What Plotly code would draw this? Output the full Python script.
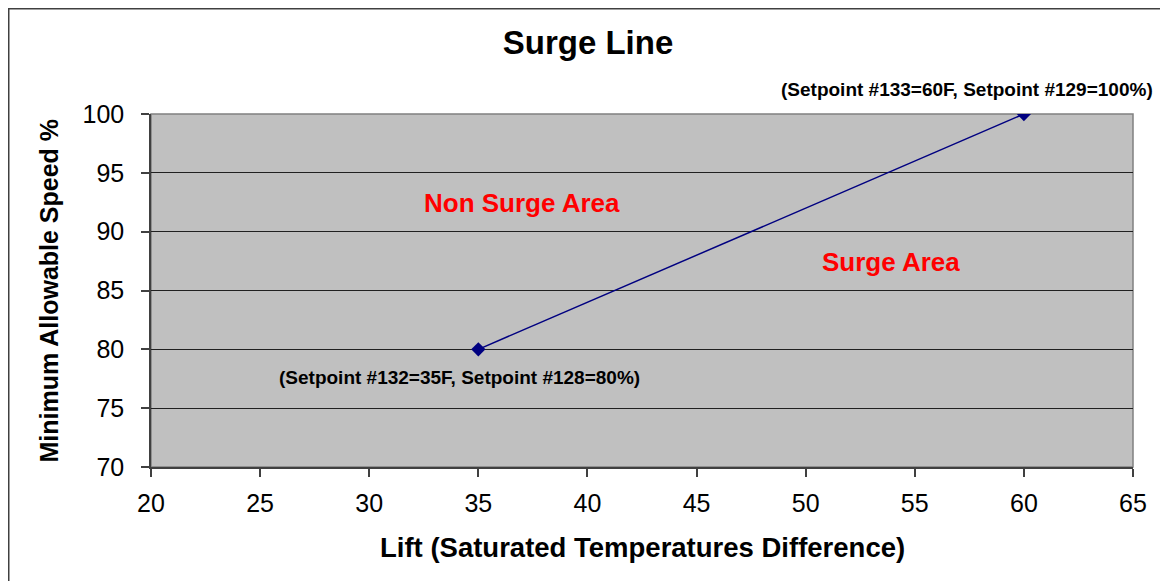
import plotly.graph_objects as go

# Data
lift = [35, 60]
speed = [80, 100]
x_ticks = [20, 25, 30, 35, 40, 45, 50, 55, 60, 65]
y_ticks = [70, 75, 80, 85, 90, 95, 100]
y_grid = [75, 80, 85, 90, 95]
point_labels = ["(Setpoint #132=35F, Setpoint #128=80%)", "(Setpoint #133=60F, Setpoint #129=100%)"]
area_labels = ["Non Surge Area", "Surge Area"]
area_x = [37.0, 53.9]
area_y = [92.4, 87.4]

FONT = "Liberation Sans, Arial, sans-serif"
# page body has an 8px margin, so the figure is slightly smaller than the window
W, H = 1160, 573
L, R, T, B = 143, 35, 106, 114
pw, ph = W - L - R, H - T - B

fig = go.Figure()
fig.add_trace(go.Scatter(
    x=lift, y=speed, mode="lines+markers",
    line=dict(color="#000080", width=1.5),
    marker=dict(symbol="diamond", size=11, color="#000080"),
    showlegend=False, hoverinfo="x+y",
))

def px2paper_x(px):
    return (px - L) / pw

def px2paper_y(py):
    return (H - B - py) / ph

annotations = [
    dict(x=lift[0], y=speed[0], xref="x", yref="y", text=point_labels[0], showarrow=False,
         xshift=-19, yshift=-28, font=dict(family=FONT, size=19, color="black", weight="bold")),
    dict(x=lift[1], y=speed[1], xref="x", yref="y", text=point_labels[1], showarrow=False,
         xshift=-57, yshift=25, font=dict(family=FONT, size=19, color="black", weight="bold")),
]
for t, ax_, ay_ in zip(area_labels, area_x, area_y):
    annotations.append(dict(x=ax_, y=ay_, xref="x", yref="y", text=t, showarrow=False,
                            font=dict(family=FONT, size=26, color="#FF0000", weight="bold")))
annotations.append(dict(x=0.5, y=px2paper_y(539), xref="paper", yref="paper",
                        text="Lift (Saturated Temperatures Difference)", showarrow=False,
                        xanchor="center", yanchor="middle",
                        font=dict(family=FONT, size=27.5, color="black", weight="bold")))
annotations.append(dict(x=px2paper_x(40), y=0.5, xref="paper", yref="paper",
                        text="Minimum Allowable Speed %", showarrow=False, textangle=-90,
                        xanchor="center", yanchor="middle",
                        font=dict(family=FONT, size=25, color="black", weight="bold")))

shapes = [
    # plot area border (gray)
    dict(type="rect", xref="paper", yref="paper", x0=0, y0=0, x1=1, y1=1,
         line=dict(color="#808080", width=1.5), layer="below"),
    # outer chart frame
    dict(type="rect", xref="paper", yref="paper",
         x0=px2paper_x(0.5), y0=px2paper_y(600), x1=px2paper_x(1200), y1=px2paper_y(0.5),
         line=dict(color="#404040", width=2), layer="below"),
]

fig.update_layout(
    width=W, height=H,
    margin=dict(l=L, r=R, t=T, b=B, pad=0),
    paper_bgcolor="white", plot_bgcolor="#C0C0C0",
    title=dict(text="<b>Surge Line</b>", x=580 / W, xanchor="center",
               y=1 - 34 / H, yanchor="middle",
               font=dict(family=FONT, size=33, color="black")),
    xaxis=dict(range=[20, 65], tickvals=x_ticks, ticktext=[str(v) for v in x_ticks],
               showgrid=False, zeroline=False, showline=True, linecolor="#404040", linewidth=1.5,
               ticks="outside", ticklen=8, tickwidth=1.5, tickcolor="#404040",
               tickfont=dict(family=FONT, size=25, color="black"), ticklabelstandoff=5),
    yaxis=dict(range=[70, 100], tickvals=y_ticks, ticktext=[str(v) for v in y_ticks],
               showgrid=False, zeroline=False,
               showline=True, linecolor="#404040", linewidth=1.5,
               ticks="outside", ticklen=8, tickwidth=1.5, tickcolor="#404040",
               tickfont=dict(family=FONT, size=25, color="black"), ticklabelstandoff=12,
               minor=dict(tickvals=y_grid, showgrid=True, gridcolor="#202020", gridwidth=1.2,
                          ticks="")),
    annotations=annotations,
    shapes=shapes,
    font=dict(family=FONT),
)

fig.write_html("out.html")
